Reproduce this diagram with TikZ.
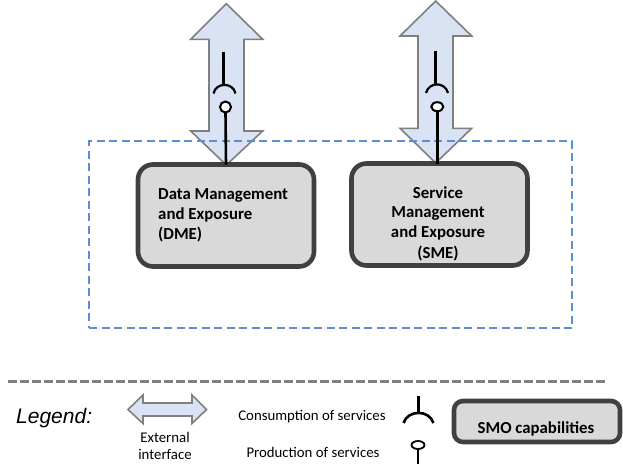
\documentclass[tikz,border=0pt]{standalone}
\usepackage{fontspec}
\setmainfont{Carlito}
\newfontfamily\legendfont{Liberation Sans}
\usetikzlibrary{calc}
\definecolor{arrowfill}{HTML}{DAE3F3}
\definecolor{arrowedge}{HTML}{7F7F7F}
\definecolor{boxedge}{HTML}{404040}
\definecolor{boxfill}{HTML}{D9D9D9}
\definecolor{dashblue}{HTML}{5B8FD5}
\tikzset{
  x=1pt,y=-1pt,
  extarrow/.style={draw=arrowedge,fill=arrowfill,line width=1.6pt,line join=miter},
  capbox/.style={draw=boxedge,fill=boxfill,line width=4.6pt,rounded corners=15pt,inner sep=0pt,outer sep=0pt,anchor=north west},
  capline/.style={font=\bfseries\fontsize{16.8}{20.2}\selectfont,inner sep=0pt},
  conn/.style={draw=black,line width=2.6pt},
  socketarc/.style={draw=black,line width=2.2pt},
  prodend/.style={draw=black,fill=white,line width=2pt,inner sep=0pt,outer sep=0pt,shape=ellipse},
  small/.style={font=\fontsize{14.8}{17}\selectfont,inner sep=0pt},
}
\usetikzlibrary{shapes.geometric}
\begin{document}
\begin{tikzpicture}
\useasboundingbox (0,0) rectangle (623,471);
% external interface arrows
\draw[extarrow] (226.3,3.7) -- (262.7,39.3) -- (244,39.3) -- (244,131) -- (262.7,131) -- (226.3,165) -- (190.7,131) -- (209,131) -- (209,39.3) -- (190.7,39.3) -- cycle;
\draw[extarrow] (435.7,1) -- (471.7,36) -- (453,36) -- (453,128.3) -- (471.7,128.3) -- (435.7,163) -- (400,128.3) -- (418,128.3) -- (418,36) -- (400,36) -- cycle;
% SMO frame
\node[draw=dashblue,line width=1.7pt,dash pattern=on 8pt off 4.5pt,inner sep=0pt,outer sep=0pt,anchor=north west,minimum width=483pt,minimum height=187pt] (frame) at (89,141) {};
% capability boxes
\node[capbox,minimum width=176pt,minimum height=102pt] (dme) at (138,164.5) {};
\node[capbox,minimum width=176pt,minimum height=102pt] (sme) at (351.5,163.5) {};
\node[capline,anchor=west] (dmea) at (158,195) {Data Management};
\node[capline,anchor=west] (dmeb) at (158,215) {and Exposure};
\node[capline,anchor=west] (dmec) at (158,235) {(DME)};
\node[capline] (smea) at (438,193) {Service};
\node[capline] (smeb) at (438,213) {Management};
\node[capline] (smec) at (438,233) {and Exposure};
\node[capline] (smed) at (438,253.5) {(SME)};
% service symbols, DME
\node[prodend,minimum width=11pt,minimum height=11pt] (pa) at (225.5,107) {};
\draw[conn] (pa.south) -- (dme.north);
\coordinate (ca) at (223.3,51.7);
\coordinate (cb) at (223.3,85.5);
\draw[conn] (ca) -- (cb);
\draw[socketarc] (213.5,93.5) .. controls (216,82) and (233,82) .. (235.5,93.5);
% service symbols, SME
\node[prodend,minimum width=12pt,minimum height=9pt] (pb) at (437.3,106.7) {};
\draw[conn] (pb.south) -- (pb.south |- sme.north);
\coordinate (cc) at (435.7,50.7);
\coordinate (cd) at (435.7,85);
\draw[conn] (cc) -- (cd);
\draw[socketarc] (426,93) .. controls (429,81.5) and (445,81.5) .. (448,93);
% legend
\coordinate (sepl) at (8,381);
\coordinate (sepr) at (606,381);
\draw[draw=arrowedge,line width=3pt,dash pattern=on 8.5pt off 3.5pt] (sepl) -- (sepr);
\node[font=\legendfont\itshape\fontsize{21}{24}\selectfont,inner sep=0pt,anchor=base west] (legend) at (16,423) {Legend:};
\draw[extarrow] (128,409.5) -- (143,395) -- (143,403) -- (192,403) -- (192,395) -- (206.5,409.5) -- (192,423.5) -- (192,416) -- (143,416) -- (143,423.5) -- cycle;
\node[small] (ext) at (165,437) {External};
\node[small] (ifc) at (165,454) {interface};
\node[small] (cons) at (312,417) {Consumption of services};
\node[small] (prod) at (313,452) {Production of services};
\coordinate (la) at (418,396);
\coordinate (lb) at (418,414);
\draw[conn,line width=3pt] (la) -- (lb);
\draw[socketarc,line width=2.6pt] (403.5,423) .. controls (408,409.5) and (429,409.5) .. (433.5,423);
\node[prodend,minimum width=13pt,minimum height=8pt,line width=1.8pt] (lp) at (418,445) {};
\coordinate (lq) at (418,464);
\draw[conn] (lp.south) -- (lq);
\node[capbox,minimum width=166pt,minimum height=41pt,rounded corners=9pt] (smo) at (454,401) {};
\node[capline] (smot) at (536,429) {SMO capabilities};
\end{tikzpicture}
\end{document}
